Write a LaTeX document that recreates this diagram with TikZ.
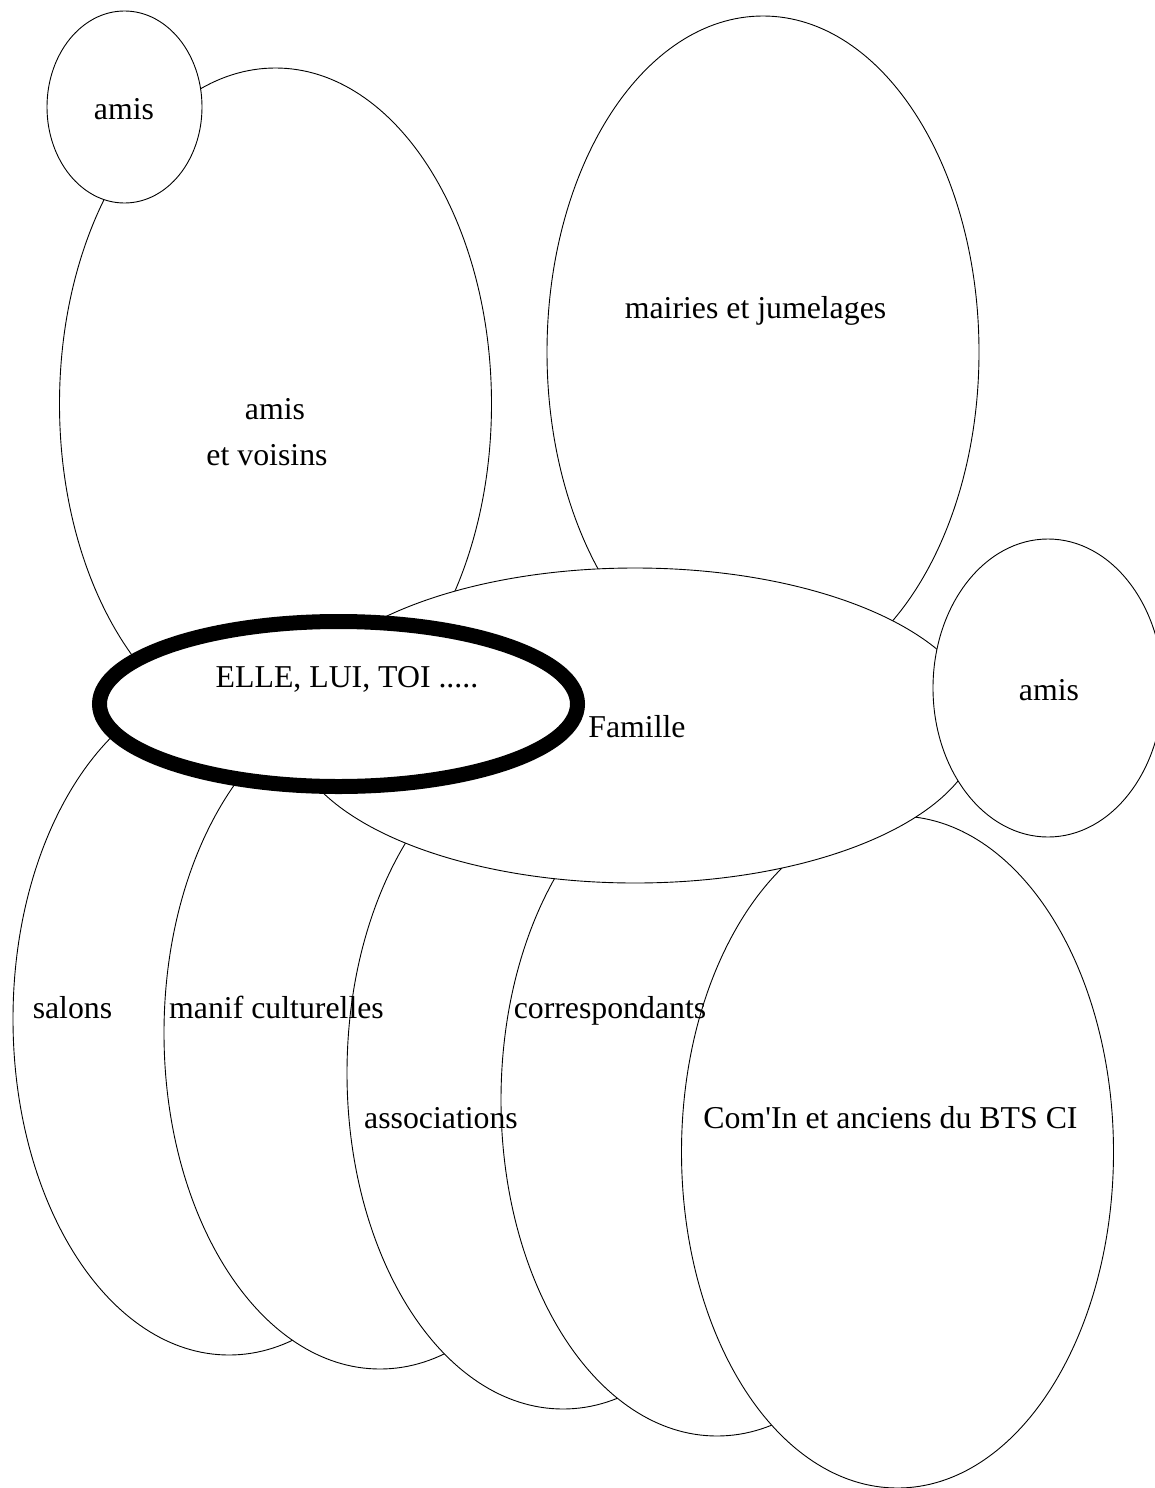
\documentclass[tikz,border=0pt]{standalone}
\usepackage{fontspec}
\setmainfont{Liberation Serif}
\usetikzlibrary{shapes.geometric}
\begin{document}
\begin{tikzpicture}[x=1pt,y=-1pt,
  bubble/.style={ellipse,draw=black,fill=white,line width=0.9pt,inner sep=0pt,outer sep=0pt},
  big/.style={bubble,minimum width=432pt,minimum height=672pt},
  lbl/.style={anchor=base,inner sep=0pt,font=\fontsize{31.8}{38}\selectfont}]
\useasboundingbox (0,0) rectangle (1155,1488);
\clip (0,0) rectangle (1155,1488);
% shapes, from back to front
\node[big] (voisins) at (275.5,404) {};
\node[bubble,minimum width=155pt,minimum height=192pt] (amis1) at (124.5,107) {};
\node[big] (mairies) at (763,352) {};
\node[big] (salons) at (229,1019) {};
\node[big] (manif) at (380,1033) {};
\node[big] (assoc) at (563,1073) {};
\node[big] (corresp) at (717,1100) {};
\node[big] (comin) at (897.5,1152) {};
\node[bubble,minimum width=690pt,minimum height=315pt] (famille) at (635,725.5) {};
\node[bubble,minimum width=230pt,minimum height=298pt] (amis2) at (1048,688) {};
\node[bubble,line width=15pt,minimum width=478pt,minimum height=165pt] (elle) at (338.5,704) {};
% texts
\node[lbl] (t-amis1) at (124,119) {amis};
\node[lbl] (t-voisins1) at (275,419) {amis};
\node[lbl] (t-voisins2) at (267,465) {et voisins};
\node[lbl] (t-mairies) at (755.5,318) {mairies et jumelages};
\node[lbl] (t-elle) at (347,687) {ELLE, LUI, TOI .....};
\node[lbl] (t-famille) at (637,737) {Famille};
\node[lbl] (t-amis2) at (1049,700) {amis};
\node[lbl] (t-salons) at (72.5,1018.6) {salons};
\node[lbl] (t-manif) at (276.5,1018.6) {manif culturelles};
\node[lbl] (t-assoc) at (441,1128.6) {associations};
\node[lbl] (t-corresp) at (610,1018) {correspondants};
\node[lbl] (t-comin) at (890.5,1128.8) {Com\textquotesingle In et anciens du BTS CI};
\end{tikzpicture}
\end{document}
